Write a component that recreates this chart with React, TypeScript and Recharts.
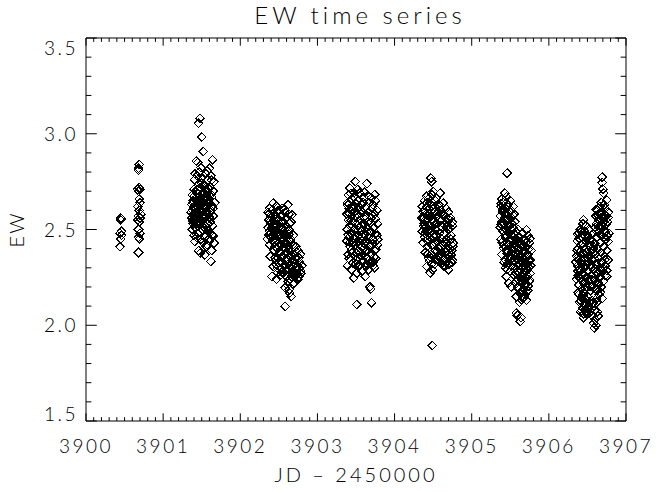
import React from 'react';
import { ScatterChart, Scatter, XAxis, YAxis, Label } from 'recharts';

type P = [number, number];

const night0: P[] = [
  [3900.45, 2.56], [3900.46, 2.555], [3900.45, 2.55], [3900.46, 2.49], [3900.44, 2.48], [3900.46, 2.47], [3900.45, 2.45], [3900.44, 2.41],
  [3900.69, 2.84], [3900.68, 2.82], [3900.68, 2.81], [3900.69, 2.72], [3900.70, 2.71], [3900.67, 2.71], [3900.68, 2.70], [3900.69, 2.66],
  [3900.70, 2.64], [3900.67, 2.62], [3900.69, 2.60], [3900.71, 2.58], [3900.68, 2.57], [3900.70, 2.56], [3900.67, 2.55], [3900.69, 2.54],
  [3900.68, 2.50], [3900.70, 2.48], [3900.68, 2.46], [3900.69, 2.45], [3900.68, 2.38],
];

const night1: P[] = [
  [3901.478, 3.081], [3901.456, 3.055], [3901.50, 2.982], [3901.52, 2.907], [3901.64, 2.864], [3901.43, 2.858], [3901.45, 2.85], [3901.60, 2.82],
  [3901.47, 2.80], [3901.55, 2.79], [3901.62, 2.78], [3901.44, 2.78], [3901.50, 2.77], [3901.58, 2.76], [3901.66, 2.75], [3901.41, 2.76],
  [3901.46, 2.74], [3901.53, 2.73], [3901.61, 2.72], [3901.48, 2.72], [3901.40, 2.71], [3901.57, 2.70], [3901.65, 2.70], [3901.44, 2.69],
  [3901.51, 2.69], [3901.59, 2.68], [3901.38, 2.68], [3901.47, 2.67], [3901.63, 2.67], [3901.54, 2.66], [3901.42, 2.66], [3901.39, 2.65],
  [3901.49, 2.65], [3901.60, 2.64], [3901.67, 2.64], [3901.45, 2.63], [3901.37, 2.63], [3901.52, 2.62], [3901.56, 2.62], [3901.41, 2.61],
  [3901.38, 2.60], [3901.47, 2.60], [3901.62, 2.60], [3901.43, 2.59], [3901.50, 2.59], [3901.39, 2.58], [3901.58, 2.58], [3901.65, 2.57],
  [3901.44, 2.57], [3901.37, 2.56], [3901.53, 2.56], [3901.41, 2.55], [3901.48, 2.55], [3901.61, 2.54], [3901.39, 2.53], [3901.46, 2.53],
  [3901.55, 2.52], [3901.64, 2.52], [3901.42, 2.51], [3901.38, 2.50], [3901.51, 2.50], [3901.59, 2.49], [3901.45, 2.48], [3901.63, 2.47],
  [3901.40, 2.47], [3901.54, 2.46], [3901.49, 2.45], [3901.60, 2.44], [3901.41, 2.438], [3901.57, 2.42], [3901.56, 2.41], [3901.63, 2.39],
  [3901.48, 2.377], [3901.54, 2.368], [3901.62, 2.333], [3901.46, 2.39], [3901.66, 2.43], [3901.52, 2.57], [3901.40, 2.62], [3901.44, 2.54],
  [3901.57, 2.64], [3901.50, 2.63], [3901.42, 2.70], [3901.36, 2.59], [3901.60, 2.56], [3901.47, 2.58], [3901.53, 2.60], [3901.39, 2.54],
  [3901.43, 2.61], [3901.58, 2.53],
  [3901.392, 2.612], [3901.418, 2.583], [3901.437, 2.647], [3901.461, 2.598], [3901.486, 2.634], [3901.503, 2.571], [3901.527, 2.688], [3901.544, 2.607],
  [3901.568, 2.552], [3901.589, 2.661], [3901.613, 2.589], [3901.636, 2.624], [3901.381, 2.548], [3901.404, 2.676], [3901.429, 2.531], [3901.452, 2.706],
  [3901.474, 2.524], [3901.497, 2.742], [3901.519, 2.516], [3901.541, 2.731], [3901.563, 2.498], [3901.584, 2.718], [3901.607, 2.483], [3901.628, 2.757],
  [3901.651, 2.468], [3901.398, 2.568], [3901.421, 2.627], [3901.446, 2.574], [3901.469, 2.652], [3901.491, 2.601], [3901.512, 2.543], [3901.536, 2.669],
  [3901.557, 2.594], [3901.579, 2.637], [3901.602, 2.566], [3901.624, 2.683], [3901.647, 2.609], [3901.413, 2.792], [3901.489, 2.823], [3901.571, 2.806],
  [3901.435, 2.459], [3901.516, 2.432], [3901.596, 2.451], [3901.384, 2.641], [3901.458, 2.562], [3901.532, 2.615], [3901.605, 2.538],
];

const night2: P[] = [
  [3902.43, 2.638], [3902.62, 2.629], [3902.67, 2.577], [3902.38, 2.61], [3902.47, 2.62], [3902.54, 2.61], [3902.41, 2.60], [3902.50, 2.60],
  [3902.58, 2.59], [3902.36, 2.59], [3902.45, 2.58], [3902.63, 2.58], [3902.39, 2.57], [3902.53, 2.57], [3902.48, 2.56], [3902.60, 2.56],
  [3902.37, 2.55], [3902.43, 2.55], [3902.56, 2.54], [3902.66, 2.54], [3902.40, 2.53], [3902.51, 2.53], [3902.46, 2.52], [3902.59, 2.52],
  [3902.36, 2.51], [3902.54, 2.51], [3902.42, 2.50], [3902.63, 2.50], [3902.38, 2.49], [3902.49, 2.49], [3902.57, 2.48], [3902.44, 2.48],
  [3902.37, 2.47], [3902.52, 2.47], [3902.61, 2.46], [3902.40, 2.46], [3902.47, 2.45], [3902.55, 2.45], [3902.65, 2.44], [3902.42, 2.44],
  [3902.50, 2.43], [3902.59, 2.43], [3902.38, 2.42], [3902.68, 2.42], [3902.53, 2.42], [3902.45, 2.41], [3902.62, 2.41], [3902.72, 2.41],
  [3902.48, 2.40], [3902.57, 2.40], [3902.66, 2.39], [3902.75, 2.39], [3902.52, 2.38], [3902.61, 2.38], [3902.70, 2.37], [3902.78, 2.37],
  [3902.55, 2.36], [3902.64, 2.36], [3902.49, 2.35], [3902.73, 2.35], [3902.59, 2.34], [3902.68, 2.34], [3902.77, 2.33], [3902.53, 2.33],
  [3902.62, 2.32], [3902.71, 2.32], [3902.80, 2.31], [3902.57, 2.31], [3902.66, 2.30], [3902.48, 2.30], [3902.74, 2.29], [3902.60, 2.29],
  [3902.69, 2.28], [3902.55, 2.28], [3902.78, 2.27], [3902.64, 2.27], [3902.72, 2.26], [3902.58, 2.26], [3902.67, 2.25], [3902.43, 2.307],
  [3902.41, 2.255], [3902.47, 2.24], [3902.62, 2.23], [3902.70, 2.22], [3902.58, 2.195], [3902.64, 2.168], [3902.66, 2.15], [3902.58, 2.098],
  [3902.52, 2.26], [3902.75, 2.24], [3902.44, 2.39], [3902.39, 2.36], [3902.50, 2.55], [3902.58, 2.47], [3902.46, 2.34], [3902.76, 2.30],
  [3902.69, 2.47], [3902.35, 2.45],
  [3902.372, 2.583], [3902.394, 2.547], [3902.417, 2.602], [3902.438, 2.524], [3902.461, 2.566], [3902.483, 2.598], [3902.506, 2.513], [3902.527, 2.574],
  [3902.549, 2.536], [3902.571, 2.605], [3902.594, 2.557], [3902.616, 2.492], [3902.638, 2.531], [3902.383, 2.478], [3902.406, 2.506], [3902.428, 2.463],
  [3902.451, 2.494], [3902.474, 2.437], [3902.497, 2.476], [3902.519, 2.452], [3902.542, 2.498], [3902.563, 2.427], [3902.586, 2.462], [3902.608, 2.438],
  [3902.631, 2.476], [3902.653, 2.451], [3902.494, 2.413], [3902.517, 2.384], [3902.538, 2.357], [3902.561, 2.408], [3902.583, 2.373], [3902.604, 2.346],
  [3902.627, 2.392], [3902.649, 2.318], [3902.672, 2.364], [3902.694, 2.331], [3902.716, 2.388], [3902.738, 2.307], [3902.761, 2.352], [3902.783, 2.284],
  [3902.512, 2.337], [3902.533, 2.296], [3902.556, 2.272], [3902.578, 2.318], [3902.601, 2.254], [3902.623, 2.296], [3902.646, 2.242], [3902.668, 2.279],
  [3902.691, 2.258], [3902.713, 2.297], [3902.736, 2.271], [3902.758, 2.253], [3902.487, 2.276], [3902.466, 2.318], [3902.452, 2.352], [3902.612, 2.208],
  [3902.684, 2.214], [3902.633, 2.187],
];

const night3: P[] = [
  [3903.49, 2.75], [3903.64, 2.739], [3903.42, 2.716], [3903.55, 2.69], [3903.70, 2.664], [3903.40, 2.68], [3903.47, 2.67], [3903.60, 2.67],
  [3903.75, 2.65], [3903.44, 2.66], [3903.52, 2.65], [3903.67, 2.64], [3903.39, 2.64], [3903.57, 2.63], [3903.72, 2.63], [3903.46, 2.62],
  [3903.63, 2.62], [3903.41, 2.61], [3903.53, 2.61], [3903.77, 2.60], [3903.68, 2.60], [3903.48, 2.59], [3903.58, 2.59], [3903.38, 2.58],
  [3903.74, 2.58], [3903.44, 2.57], [3903.62, 2.57], [3903.51, 2.56], [3903.70, 2.56], [3903.40, 2.55], [3903.56, 2.55], [3903.66, 2.54],
  [3903.46, 2.54], [3903.78, 2.53], [3903.59, 2.53], [3903.42, 2.52], [3903.52, 2.52], [3903.73, 2.51], [3903.64, 2.51], [3903.39, 2.50],
  [3903.48, 2.50], [3903.57, 2.49], [3903.69, 2.49], [3903.44, 2.48], [3903.76, 2.48], [3903.61, 2.47], [3903.53, 2.47], [3903.41, 2.46],
  [3903.66, 2.46], [3903.49, 2.45], [3903.72, 2.45], [3903.58, 2.44], [3903.38, 2.44], [3903.63, 2.43], [3903.46, 2.43], [3903.78, 2.42],
  [3903.54, 2.42], [3903.69, 2.41], [3903.42, 2.41], [3903.60, 2.40], [3903.50, 2.40], [3903.74, 2.39], [3903.65, 2.39], [3903.45, 2.38],
  [3903.56, 2.38], [3903.40, 2.37], [3903.70, 2.37], [3903.61, 2.36], [3903.48, 2.36], [3903.76, 2.35], [3903.53, 2.35], [3903.67, 2.34],
  [3903.43, 2.34], [3903.58, 2.33], [3903.72, 2.33], [3903.50, 2.32], [3903.64, 2.32], [3903.39, 2.31], [3903.55, 2.31], [3903.47, 2.247],
  [3903.51, 2.27], [3903.62, 2.255], [3903.68, 2.20], [3903.69, 2.19], [3903.70, 2.117], [3903.51, 2.108], [3903.44, 2.29], [3903.66, 2.29],
  [3903.74, 2.30], [3903.58, 2.28], [3903.52, 2.58], [3903.61, 2.53], [3903.45, 2.52], [3903.71, 2.61], [3903.55, 2.45], [3903.43, 2.60],
  [3903.63, 2.44],
  [3903.392, 2.627], [3903.414, 2.583], [3903.437, 2.546], [3903.459, 2.608], [3903.482, 2.571], [3903.504, 2.634], [3903.527, 2.496], [3903.549, 2.588],
  [3903.571, 2.523], [3903.594, 2.641], [3903.616, 2.554], [3903.638, 2.487], [3903.661, 2.592], [3903.683, 2.536], [3903.706, 2.578], [3903.728, 2.507],
  [3903.751, 2.556], [3903.772, 2.468], [3903.398, 2.472], [3903.421, 2.433], [3903.443, 2.395], [3903.466, 2.452], [3903.488, 2.418], [3903.511, 2.376],
  [3903.533, 2.437], [3903.556, 2.402], [3903.578, 2.364], [3903.601, 2.426], [3903.623, 2.383], [3903.646, 2.351], [3903.668, 2.412], [3903.691, 2.372],
  [3903.713, 2.424], [3903.736, 2.356], [3903.758, 2.398], [3903.781, 2.447], [3903.408, 2.347], [3903.453, 2.326], [3903.497, 2.342], [3903.542, 2.318],
  [3903.587, 2.337], [3903.632, 2.308], [3903.676, 2.326], [3903.721, 2.312], [3903.476, 2.692], [3903.521, 2.708], [3903.613, 2.694], [3903.657, 2.676],
  [3903.745, 2.683], [3903.431, 2.688],
];

const night4: P[] = [
  [3904.47, 2.768], [3904.48, 2.75], [3904.50, 2.698], [3904.59, 2.69], [3904.44, 2.66], [3904.63, 2.638], [3904.39, 2.65], [3904.53, 2.65],
  [3904.42, 2.64], [3904.57, 2.63], [3904.36, 2.62], [3904.49, 2.62], [3904.67, 2.61], [3904.45, 2.61], [3904.60, 2.60], [3904.38, 2.60],
  [3904.52, 2.59], [3904.70, 2.59], [3904.41, 2.58], [3904.64, 2.58], [3904.47, 2.57], [3904.56, 2.57], [3904.35, 2.56], [3904.73, 2.56],
  [3904.43, 2.55], [3904.61, 2.55], [3904.50, 2.54], [3904.68, 2.54], [3904.38, 2.53], [3904.55, 2.53], [3904.46, 2.52], [3904.75, 2.52],
  [3904.62, 2.51], [3904.40, 2.51], [3904.53, 2.50], [3904.70, 2.50], [3904.36, 2.49], [3904.48, 2.49], [3904.65, 2.48], [3904.58, 2.48],
  [3904.43, 2.47], [3904.73, 2.47], [3904.51, 2.46], [3904.39, 2.46], [3904.67, 2.45], [3904.61, 2.45], [3904.45, 2.44], [3904.55, 2.44],
  [3904.76, 2.43], [3904.37, 2.43], [3904.63, 2.42], [3904.49, 2.42], [3904.70, 2.41], [3904.42, 2.41], [3904.58, 2.40], [3904.66, 2.40],
  [3904.52, 2.39], [3904.74, 2.39], [3904.40, 2.38], [3904.61, 2.38], [3904.47, 2.37], [3904.69, 2.37], [3904.56, 2.36], [3904.72, 2.36],
  [3904.44, 2.35], [3904.64, 2.35], [3904.53, 2.34], [3904.75, 2.34], [3904.67, 2.33], [3904.59, 2.33], [3904.71, 2.32], [3904.48, 2.32],
  [3904.63, 2.31], [3904.42, 2.307], [3904.46, 2.273], [3904.49, 2.29], [3904.70, 2.29], [3904.49, 1.894], [3904.57, 2.59], [3904.41, 2.49],
  [3904.68, 2.43], [3904.54, 2.47], [3904.46, 2.58], [3904.60, 2.52], [3904.38, 2.56], [3904.66, 2.38], [3904.52, 2.62], [3904.73, 2.45],
  [3904.44, 2.50], [3904.58, 2.36],
  [3904.368, 2.592], [3904.391, 2.546], [3904.413, 2.617], [3904.436, 2.574], [3904.458, 2.638], [3904.481, 2.553], [3904.503, 2.607], [3904.526, 2.528],
  [3904.548, 2.582], [3904.571, 2.617], [3904.593, 2.543], [3904.616, 2.578], [3904.638, 2.526], [3904.661, 2.564], [3904.683, 2.517], [3904.706, 2.553],
  [3904.728, 2.508], [3904.751, 2.538], [3904.374, 2.517], [3904.397, 2.478], [3904.419, 2.443], [3904.442, 2.492], [3904.464, 2.457], [3904.487, 2.416],
  [3904.509, 2.473], [3904.532, 2.428], [3904.554, 2.387], [3904.577, 2.442], [3904.599, 2.407], [3904.622, 2.366], [3904.644, 2.432], [3904.667, 2.386],
  [3904.689, 2.348], [3904.712, 2.402], [3904.734, 2.367], [3904.757, 2.412], [3904.428, 2.372], [3904.451, 2.336], [3904.473, 2.352], [3904.518, 2.318],
  [3904.563, 2.341], [3904.607, 2.322], [3904.652, 2.308], [3904.697, 2.318], [3904.742, 2.327], [3904.484, 2.682], [3904.542, 2.664], [3904.416, 2.673],
];

const night5: P[] = [
  [3905.46, 2.794], [3905.43, 2.69], [3905.45, 2.67], [3905.39, 2.66], [3905.50, 2.65], [3905.41, 2.64], [3905.47, 2.63], [3905.54, 2.62],
  [3905.38, 2.62], [3905.44, 2.61], [3905.51, 2.60], [3905.40, 2.59], [3905.48, 2.58], [3905.55, 2.58], [3905.37, 2.57], [3905.43, 2.56],
  [3905.52, 2.56], [3905.46, 2.55], [3905.39, 2.54], [3905.56, 2.54], [3905.42, 2.53], [3905.49, 2.52], [3905.37, 2.51], [3905.53, 2.51],
  [3905.45, 2.50], [3905.60, 2.50], [3905.71, 2.499], [3905.40, 2.49], [3905.57, 2.49], [3905.66, 2.48], [3905.48, 2.48], [3905.73, 2.47],
  [3905.43, 2.47], [3905.54, 2.46], [3905.62, 2.46], [3905.38, 2.45], [3905.69, 2.45], [3905.50, 2.44], [3905.58, 2.44], [3905.46, 2.43],
  [3905.75, 2.43], [3905.64, 2.42], [3905.41, 2.42], [3905.55, 2.41], [3905.70, 2.41], [3905.52, 2.40], [3905.61, 2.40], [3905.44, 2.39],
  [3905.77, 2.39], [3905.67, 2.38], [3905.57, 2.38], [3905.39, 2.37], [3905.73, 2.37], [3905.49, 2.36], [3905.63, 2.36], [3905.59, 2.35],
  [3905.70, 2.35], [3905.54, 2.34], [3905.76, 2.34], [3905.42, 2.33], [3905.65, 2.33], [3905.61, 2.32], [3905.72, 2.32], [3905.51, 2.31],
  [3905.68, 2.31], [3905.57, 2.30], [3905.74, 2.30], [3905.46, 2.29], [3905.63, 2.29], [3905.70, 2.28], [3905.59, 2.28], [3905.66, 2.27],
  [3905.76, 2.27], [3905.55, 2.26], [3905.45, 2.255], [3905.72, 2.26], [3905.62, 2.25], [3905.68, 2.24], [3905.58, 2.23], [3905.74, 2.23],
  [3905.65, 2.22], [3905.48, 2.22], [3905.70, 2.21], [3905.60, 2.20], [3905.51, 2.20], [3905.67, 2.19], [3905.73, 2.18], [3905.63, 2.17],
  [3905.69, 2.16], [3905.58, 2.15], [3905.66, 2.14], [3905.71, 2.13], [3905.62, 2.12], [3905.58, 2.064], [3905.59, 2.05], [3905.64, 2.04],
  [3905.63, 2.02], [3905.52, 2.47], [3905.47, 2.39], [3905.40, 2.60], [3905.56, 2.43], [3905.68, 2.44], [3905.44, 2.30],
  [3905.382, 2.636], [3905.404, 2.607], [3905.427, 2.581], [3905.449, 2.624], [3905.472, 2.557], [3905.494, 2.596], [3905.517, 2.532], [3905.539, 2.573],
  [3905.386, 2.526], [3905.409, 2.493], [3905.431, 2.546], [3905.454, 2.468], [3905.476, 2.516], [3905.498, 2.452], [3905.521, 2.497], [3905.543, 2.426],
  [3905.392, 2.434], [3905.414, 2.402], [3905.437, 2.456], [3905.459, 2.377], [3905.482, 2.424], [3905.504, 2.358], [3905.527, 2.384], [3905.433, 2.342],
  [3905.466, 2.318], [3905.488, 2.337], [3905.553, 2.477], [3905.576, 2.452], [3905.598, 2.426], [3905.621, 2.437], [3905.643, 2.404], [3905.666, 2.418],
  [3905.688, 2.386], [3905.711, 2.434], [3905.733, 2.396], [3905.756, 2.452], [3905.562, 2.366], [3905.584, 2.343], [3905.607, 2.384], [3905.629, 2.314],
  [3905.652, 2.356], [3905.674, 2.328], [3905.697, 2.362], [3905.719, 2.294], [3905.742, 2.337], [3905.764, 2.312], [3905.573, 2.272], [3905.596, 2.243],
  [3905.618, 2.278], [3905.641, 2.236], [3905.663, 2.252], [3905.686, 2.214], [3905.708, 2.247], [3905.731, 2.204], [3905.753, 2.236], [3905.614, 2.187],
  [3905.637, 2.164], [3905.659, 2.178], [3905.682, 2.148], [3905.704, 2.176], [3905.646, 2.132],
];

const night6: P[] = [
  [3906.69, 2.774], [3906.69, 2.745], [3906.70, 2.711], [3906.71, 2.69], [3906.75, 2.655], [3906.66, 2.62], [3906.68, 2.64], [3906.73, 2.61],
  [3906.63, 2.60], [3906.77, 2.59], [3906.67, 2.58], [3906.61, 2.57], [3906.74, 2.57], [3906.70, 2.56], [3906.45, 2.551], [3906.64, 2.55],
  [3906.44, 2.53], [3906.76, 2.54], [3906.48, 2.52], [3906.68, 2.52], [3906.60, 2.51], [3906.41, 2.50], [3906.52, 2.50], [3906.72, 2.50],
  [3906.46, 2.49], [3906.65, 2.49], [3906.57, 2.48], [3906.39, 2.48], [3906.78, 2.48], [3906.50, 2.47], [3906.69, 2.47], [3906.43, 2.46],
  [3906.62, 2.46], [3906.54, 2.45], [3906.74, 2.45], [3906.37, 2.44], [3906.47, 2.44], [3906.77, 2.438], [3906.59, 2.43], [3906.67, 2.43],
  [3906.41, 2.42], [3906.52, 2.42], [3906.71, 2.41], [3906.45, 2.41], [3906.63, 2.40], [3906.38, 2.40], [3906.56, 2.39], [3906.75, 2.39],
  [3906.49, 2.38], [3906.68, 2.38], [3906.42, 2.37], [3906.60, 2.37], [3906.36, 2.36], [3906.53, 2.36], [3906.72, 2.36], [3906.46, 2.35],
  [3906.65, 2.35], [3906.39, 2.34], [3906.57, 2.34], [3906.77, 2.34], [3906.50, 2.33], [3906.69, 2.33], [3906.43, 2.32], [3906.61, 2.32],
  [3906.37, 2.31], [3906.54, 2.31], [3906.73, 2.31], [3906.47, 2.30], [3906.66, 2.30], [3906.40, 2.29], [3906.58, 2.29], [3906.51, 2.28],
  [3906.70, 2.28], [3906.44, 2.27], [3906.63, 2.27], [3906.38, 2.26], [3906.75, 2.255], [3906.55, 2.26], [3906.48, 2.25], [3906.67, 2.25],
  [3906.41, 2.24], [3906.60, 2.24], [3906.52, 2.23], [3906.71, 2.23], [3906.45, 2.22], [3906.64, 2.22], [3906.39, 2.21], [3906.57, 2.21],
  [3906.49, 2.20], [3906.68, 2.20], [3906.42, 2.19], [3906.61, 2.19], [3906.54, 2.18], [3906.46, 2.17], [3906.38, 2.17], [3906.65, 2.16],
  [3906.50, 2.15], [3906.43, 2.14], [3906.69, 2.14], [3906.56, 2.13], [3906.40, 2.12], [3906.62, 2.12], [3906.47, 2.11], [3906.58, 2.10],
  [3906.44, 2.09], [3906.53, 2.08], [3906.63, 2.07], [3906.41, 2.07], [3906.49, 2.06], [3906.64, 2.047], [3906.56, 2.05], [3906.45, 2.04],
  [3906.60, 2.03], [3906.58, 2.01], [3906.59, 1.986], [3906.61, 2.00], [3906.66, 2.58], [3906.72, 2.63], [3906.62, 2.53], [3906.40, 2.45],
  [3906.58, 2.41], [3906.70, 2.37], [3906.35, 2.33], [3906.51, 2.39], [3906.62, 2.28], [3906.36, 2.24], [3906.47, 2.19], [3906.73, 2.26],
  [3906.612, 2.604], [3906.634, 2.576], [3906.656, 2.548], [3906.679, 2.592], [3906.701, 2.534], [3906.724, 2.578], [3906.746, 2.526], [3906.769, 2.562],
  [3906.617, 2.492], [3906.642, 2.512], [3906.664, 2.473], [3906.687, 2.506], [3906.709, 2.458], [3906.732, 2.487], [3906.754, 2.466], [3906.372, 2.476],
  [3906.394, 2.452], [3906.417, 2.488], [3906.439, 2.427], [3906.462, 2.468], [3906.484, 2.436], [3906.507, 2.456], [3906.529, 2.413], [3906.552, 2.438],
  [3906.574, 2.398], [3906.597, 2.426], [3906.366, 2.392], [3906.388, 2.358], [3906.411, 2.386], [3906.433, 2.338], [3906.456, 2.372], [3906.478, 2.316],
  [3906.501, 2.354], [3906.523, 2.327], [3906.546, 2.366], [3906.568, 2.306], [3906.591, 2.347], [3906.613, 2.318], [3906.636, 2.356], [3906.658, 2.284],
  [3906.681, 2.326], [3906.703, 2.297], [3906.726, 2.342], [3906.748, 2.286], [3906.377, 2.283], [3906.399, 2.247], [3906.422, 2.268], [3906.444, 2.232],
  [3906.467, 2.262], [3906.489, 2.218], [3906.512, 2.246], [3906.534, 2.203], [3906.557, 2.238], [3906.579, 2.196], [3906.602, 2.226], [3906.624, 2.182],
  [3906.647, 2.214], [3906.669, 2.172], [3906.392, 2.162], [3906.414, 2.128], [3906.437, 2.156], [3906.459, 2.107], [3906.482, 2.134], [3906.504, 2.096],
  [3906.527, 2.122], [3906.549, 2.088], [3906.572, 2.116], [3906.594, 2.078], [3906.616, 2.138], [3906.428, 2.077], [3906.452, 2.058], [3906.476, 2.083],
  [3906.521, 2.064],
];

const xMajor = [3900, 3901, 3902, 3903, 3904, 3905, 3906, 3907];
const yMajor = [1.5, 2.0, 2.5, 3.0, 3.5];
const xMinorPerMajor = 10;
const yMinorPerMajor = 5;

const TITLE = 'EW time series';
const X_LABEL = 'JD \u2013 2450000';
const Y_LABEL = 'EW';

function withMinor(major: number[], n: number): number[] {
  const out: number[] = [];
  for (let i = 0; i < major.length - 1; i++) {
    const step = (major[i + 1] - major[i]) / n;
    for (let k = 0; k < n; k++) out.push(+(major[i] + step * k).toFixed(4));
  }
  out.push(major[major.length - 1]);
  return out;
}

const xTicks = withMinor(xMajor, xMinorPerMajor);
const yTicks = withMinor(yMajor, yMinorPerMajor);
const isMajorX = (v: number) => xMajor.some((m) => Math.abs(m - v) < 1e-6);
const isMajorY = (v: number) => yMajor.some((m) => Math.abs(m - v) < 1e-6);

const allData = [night0, night1, night2, night3, night4, night5, night6]
  .flat()
  .map(([x, y]) => ({ x, y }));

const FONT = 'Lato, "DejaVu Sans", sans-serif';
const textStyle = { fontFamily: FONT, fontWeight: 300 as const, fill: '#000' };

const X_MAJOR_LEN = 7.7;
const Y_MAJOR_LEN = 10.8;

function BottomTick(props: any) {
  const { x, y, payload } = props;
  const v = payload.value;
  const major = isMajorX(v);
  return (
    <g>
      <line x1={x} x2={x} y1={y} y2={y - (major ? X_MAJOR_LEN : X_MAJOR_LEN / 2)} stroke="#000" strokeWidth={1} />
      {major && (
        <text x={x} y={y + 32} textAnchor="middle" fontSize={19} letterSpacing={2.5} style={textStyle}>
          {String(v)}
        </text>
      )}
    </g>
  );
}

function TopTick(props: any) {
  const { x, y, payload } = props;
  const major = isMajorX(payload.value);
  return <line x1={x} x2={x} y1={y} y2={y + (major ? X_MAJOR_LEN : X_MAJOR_LEN / 2)} stroke="#000" strokeWidth={1} />;
}

function LeftTick(props: any) {
  const { x, y, payload } = props;
  const v = payload.value;
  const major = isMajorY(v);
  const top = Math.abs(v - yMajor[yMajor.length - 1]) < 1e-6;
  const bottom = Math.abs(v - yMajor[0]) < 1e-6;
  const dy = top ? 9.5 : bottom ? -7.5 : 0;
  return (
    <g>
      <line x1={x} x2={x + (major ? Y_MAJOR_LEN : Y_MAJOR_LEN / 2)} y1={y} y2={y} stroke="#000" strokeWidth={1} />
      {major && (
        <text x={x - 8} y={y + dy + 7} textAnchor="end" fontSize={19} letterSpacing={2.5} style={textStyle}>
          {v.toFixed(1)}
        </text>
      )}
    </g>
  );
}

function RightTick(props: any) {
  const { x, y, payload } = props;
  const major = isMajorY(payload.value);
  return <line x1={x} x2={x - (major ? Y_MAJOR_LEN : Y_MAJOR_LEN / 2)} y1={y} y2={y} stroke="#000" strokeWidth={1} />;
}

function Diamond(props: any) {
  const { cx, cy } = props;
  if (cx == null || cy == null) return null;
  const r = 4.3;
  return (
    <path
      d={`M${cx},${cy - r}L${cx + r},${cy}L${cx},${cy + r}L${cx - r},${cy}Z`}
      fill="none"
      stroke="#000"
      strokeWidth={1.1}
      shapeRendering="crispEdges"
    />
  );
}

const TitleContent = (p: any) => {
  const vb = p.viewBox || {};
  return (
    <text x={vb.x + vb.width / 2 + 4} y={24} textAnchor="middle" fontSize={24} letterSpacing={4} style={textStyle}>
      {TITLE}
    </text>
  );
};

const XLabelContent = (p: any) => {
  const vb = p.viewBox || {};
  return (
    <text x={vb.x + vb.width / 2} y={vb.y + 61} textAnchor="middle" fontSize={20} letterSpacing={3} style={textStyle}>
      {X_LABEL}
    </text>
  );
};

const YLabelContent = (p: any) => {
  const vb = p.viewBox || {};
  const cx = 16;
  const cy = vb.y + vb.height / 2;
  return (
    <text
      x={cx}
      y={cy}
      transform={`rotate(-90, ${cx}, ${cy})`}
      textAnchor="middle"
      dominantBaseline="central"
      fontSize={20}
      letterSpacing={2}
      style={textStyle}
    >
      {Y_LABEL}
    </text>
  );
};

export default function App() {
  return (
    <div style={{ position: 'absolute', left: 0, top: 0, width: 656, height: 492, background: '#fff' }}>
      <ScatterChart width={656} height={492} margin={{ top: 0, right: 29, bottom: 1, left: 0 }}>
        <XAxis
          xAxisId="bottom"
          dataKey="x"
          type="number"
          domain={[3900, 3907]}
          ticks={xTicks}
          interval={0}
          tickSize={0}
          tickMargin={0}
          tickLine={false}
          tick={<BottomTick />}
          height={70}
          axisLine={{ stroke: '#000', strokeWidth: 1 }}
          allowDataOverflow
          label={<Label content={XLabelContent} />}
        />
        <XAxis
          xAxisId="top"
          orientation="top"
          dataKey="x"
          type="number"
          domain={[3900, 3907]}
          ticks={xTicks}
          interval={0}
          tickSize={0}
          tickMargin={0}
          tickLine={false}
          tick={<TopTick />}
          height={38}
          axisLine={{ stroke: '#000', strokeWidth: 1 }}
          allowDataOverflow
          label={<Label content={TitleContent} />}
        />
        <YAxis
          yAxisId="left"
          dataKey="y"
          type="number"
          domain={[1.5, 3.5]}
          ticks={yTicks}
          interval={0}
          tickSize={0}
          tickMargin={0}
          tickLine={false}
          tick={<LeftTick />}
          width={86}
          axisLine={{ stroke: '#000', strokeWidth: 1 }}
          allowDataOverflow
          label={<Label content={YLabelContent} />}
        />
        <YAxis
          yAxisId="right"
          orientation="right"
          dataKey="y"
          type="number"
          domain={[1.5, 3.5]}
          ticks={yTicks}
          interval={0}
          tickSize={0}
          tickMargin={0}
          tickLine={false}
          tick={<RightTick />}
          width={1}
          axisLine={{ stroke: '#000', strokeWidth: 1 }}
          allowDataOverflow
        />
        <Scatter
          data={allData}
          xAxisId="bottom"
          yAxisId="left"
          shape={(p: any) => <Diamond {...p} />}
          isAnimationActive={false}
        />
      </ScatterChart>
    </div>
  );
}
